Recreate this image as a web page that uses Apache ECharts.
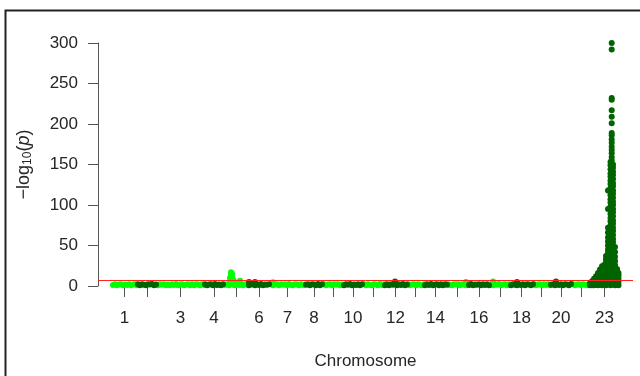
<!DOCTYPE html>
<html><head><meta charset="utf-8">
<script src="https://cdn.jsdelivr.net/npm/echarts@6/dist/echarts.min.js"></script>
<style>html,body{margin:0;padding:0;background:#fff}#c{width:640px;height:376px}</style>
</head><body><div id="c"></div>
<script>
// ---- data ----
const chromosomes = ['1','2','3','4','5','6','7','8','9','10','11','12','13','14','15','16','17','18','19','20','21','23'];
const chromLengths = [25,20,47,20,24,22,35,18,20,20,21,23,17,23,21,22,20,23,17,22,18,29];
const labeledChromosomes = ['1','3','4','6','7','8','10','12','14','16','18','20','23'];
const markerSpacing = 2;
const yTicks = [0,50,100,150,200,250,300];
const threshold = 7.3;

// background markers (-log10 p) per chromosome, evenly spaced markers
const baselineValues = {
  '1': [1.2,2.1,0.9,1.8,2.3,1.0,2.0,1.1,2.2,0.8,1.9,2.1,1.0],
  '2': [2.1,0.9,2.3,1.4,0.8,2.2,1.7,2.4,1.0,2.0],
  '3': [0.9,2.1,1.6,2.3,1.0,2.0,0.8,2.2,1.3,2.4,0.9,1.9,2.1,0.9,1.5,2.3,1.0,2.2,0.9,2.1,1.8,0.8,2.1,1.2],
  '4': [2.3,1.0,1.9,2.2,0.8,2.4,1.3,2.0,0.9,2.1],
  '5': [1.1,2.2,0.9,2.4,1.6,1.0,2.2,1.3,2.0,0.8,2.3,1.5],
  '6': [0.9,2.3,1.7,0.8,2.2,1.2,2.4,1.0,2.0,1.5,2.2],
  '7': [2.1,0.9,1.9,2.3,0.8,2.1,1.4,2.2,1.0,2.4,1.1,0.9,2.2,1.8,0.8,2.3,1.3,2.0],
  '8': [1.4,2.3,0.9,2.2,1.8,1.0,2.4,0.8,2.2],
  '9': [2.2,1.0,1.7,2.3,0.8,2.1,1.4,2.2,0.9,1.9],
  '10': [1.0,2.2,1.5,2.4,0.9,2.0,1.2,2.3,0.8,2.2],
  '11': [2.2,0.9,2.3,1.3,0.8,2.2,1.8,1.0,2.4,1.1,2.1],
  '12': [1.0,2.3,0.9,2.1,1.6,2.2,0.8,2.2,1.2,2.4,0.9,1.9],
  '13': [2.2,1.0,1.8,2.1,0.8,2.3,1.4,0.9,2.1],
  '14': [0.9,2.2,1.3,2.4,0.9,1.9,2.2,1.0,2.3,0.8,2.2,1.6],
  '15': [2.2,1.1,0.8,2.3,1.7,2.1,0.9,2.2,1.4,1.0,2.2],
  '16': [1.3,2.4,0.9,2.0,1.6,2.3,0.8,2.1,1.1,2.2,1.0],
  '17': [2.0,0.9,2.2,1.4,2.4,1.0,1.8,2.2,0.8,2.1],
  '18': [1.0,2.2,1.6,0.8,2.3,1.2,2.1,0.9,2.2,1.9,0.9,2.2],
  '19': [2.2,1.0,1.9,2.3,0.9,2.1,1.3,2.3,0.9],
  '20': [1.5,2.3,0.8,2.1,1.1,2.2,0.9,2.2,1.8,0.8,2.4],
  '21': [2.2,0.9,1.8,2.1,1.0,2.3,1.4,0.8,2.1],
  '23': []
};

// individual elevated markers: [chromosome, position within chromosome, -log10 p]
const elevatedMarkers = [
  ['5',6,10],['5',6,6.5],['5',7,17],['5',7,13.5],['5',7,10],['5',7,6.5],['5',8,15],['5',8,11],['5',8,7.5],
  ['5',9,8],['5',9,5],['5',10,6],['5',16,6.5],
  ['6',1,5],['6',7,4.8],['7',3,4.5],['12',11,5.5],['15',19,4.8],['17',3,5.5],['18',7,5],['20',6,5.5],
  // chromosome 23 shoulder
  ['23',0,1],['23',0,3.5],
  ['23',2,1],['23',2,4],['23',2,6],
  ['23',4,1],['23',4,4],['23',4,7],['23',4,9],
  ['23',6,1.5],['23',6,5],['23',6,9],['23',6,12],
  ['23',8,1],['23',8,5],['23',8,9],['23',8,13],['23',8,16],
  ['23',10,2],['23',10,6],['23',10,10],['23',10,14],['23',10,18],['23',10,20.5],
  ['23',12,1],['23',12,5],['23',12,9],['23',12,13],['23',12,17],['23',12,21],['23',12,24.5],
  ['23',14,2],['23',14,6],['23',14,10],['23',14,14],['23',14,18],['23',14,22],['23',14,26],
  ['23',16,1],['23',16,5],['23',16,9],['23',16,13],['23',16,17],['23',16,21],['23',16,25],['23',16,29],['23',16,33],['23',16,37],
  ['23',18,2],['23',18,6],['23',18,10],['23',18,14],['23',18,18],['23',18,22],['23',18,27],['23',18,31],['23',18,36],['23',18,41],['23',18,45],['23',18,50],['23',18,55],['23',18,60],['23',18,66],['23',18,72],['23',18,95],['23',18,118],
  ['23',25,1],['23',25,5],['23',25,9],['23',25,13],['23',25,17],['23',25,21],['23',25,26],['23',25,31],['23',25,36],['23',25,42],['23',25,48],
  ['23',27,2],['23',27,6],['23',27,10],['23',27,14],['23',27,18],['23',27,21],
  ['23',28.5,1],['23',28.5,5],['23',28.5,9],['23',28.5,13],['23',28.5,16]
];
// chromosome 23 main peak: two adjacent marker columns and the top of the peak
const chr23ColumnA = [1,6,10,15,20,24,29,34,38,43,47,52,57,61,66,70,75,80,84,89,93,98,103,107,112,116,121,126,130,135,139,144,149,153];
const chr23ColumnB = [2,7,12,16,21,26,30,35,40,44,49,54,58,63,68,72,77,81,86,91,95,100,104,109,114,118,123,127,132,137,141,146,150];
const chr23PeakTop = [155,159,164,168,172,177,181,186,189,201,209,217,230,232,292,300];
const chr23ColumnPos = [20.5, 23, 21.7];

// ---- build ----
const starts = [];
let acc = 0;
chromLengths.forEach(l => { starts.push(acc); acc += l; });
const mids = chromLengths.map((l, i) => starts[i] + l / 2);
const light = [], dark = [];
function add(ci, pos, v) { (ci % 2 === 0 ? light : dark).push([starts[ci] + pos, v]); }
chromosomes.forEach((c, ci) => {
  baselineValues[c].forEach((v, i) => add(ci, i * markerSpacing + 1, v));
});
elevatedMarkers.forEach(([c, p, v]) => add(chromosomes.indexOf(c), p, v));
const x23 = chromosomes.indexOf('23');
chr23ColumnA.forEach(v => add(x23, chr23ColumnPos[0], v));
chr23ColumnB.forEach(v => add(x23, chr23ColumnPos[1], v));
chr23PeakTop.forEach(v => add(x23, chr23ColumnPos[2], v));

const labeledMids = labeledChromosomes.map(c => mids[chromosomes.indexOf(c)]);
function chromName(val) {
  let best = 0;
  mids.forEach((m, i) => { if (Math.abs(m - val) < Math.abs(mids[best] - val)) best = i; });
  return chromosomes[best];
}

const FONT = '"Liberation Sans", Arial, sans-serif';
const TXT = '#262626';
const chart = echarts.init(document.getElementById('c'), null, {renderer: 'canvas'});
chart.setOption({
  animation: false,
  backgroundColor: '#fff',
  grid: {left: 98, right: 7, top: 43, bottom: 90, containLabel: false},
  xAxis: {
    type: 'value', min: -14, max: 521, offset: 1,
    splitLine: {show: false},
    axisLine: {show: false, onZero: false},
    axisTick: {show: true, customValues: mids, length: 10, lineStyle: {color: '#555', width: 1}},
    axisLabel: {show: true, customValues: labeledMids, formatter: v => chromName(v), margin: 23,
      color: TXT, fontSize: 17, fontFamily: FONT},
    name: 'Chromosome', nameLocation: 'middle', nameGap: 66,
    nameTextStyle: {color: TXT, fontSize: 17, fontFamily: FONT}
  },
  yAxis: {
    type: 'value', min: 0, max: 300, interval: 50,
    splitLine: {show: false},
    axisLine: {show: true, onZero: false, lineStyle: {color: '#555', width: 1}},
    axisTick: {show: true, length: 10, lineStyle: {color: '#555', width: 1}},
    axisLabel: {color: TXT, fontSize: 17, fontFamily: FONT, margin: 20,
      customValues: yTicks},
    name: '{a|\u2212log}{s|10}{a|(}{i|p}{a|)}', nameLocation: 'middle', nameGap: 64,
    nameTextStyle: {color: TXT, fontFamily: FONT, fontSize: 18,
      rich: {a: {fontSize: 18, fontFamily: FONT, color: TXT},
             s: {fontSize: 12, fontFamily: FONT, color: TXT, padding: [8, 0, 0, 0]},
             i: {fontSize: 18, fontFamily: FONT, color: TXT, fontStyle: 'italic'}}}
  },
  series: [
    {type: 'scatter', data: light, symbol: 'circle', symbolSize: 6, itemStyle: {color: '#00ff00', opacity: 1}, silent: true},
    {type: 'scatter', data: dark, symbol: 'circle', symbolSize: 6, itemStyle: {color: '#006400', opacity: 1}, silent: true},
    {type: 'line', data: [], z: 10, silent: true,
      markLine: {silent: true, symbol: 'none', label: {show: false},
        lineStyle: {color: '#ff2020', width: 1, type: 'solid'}, data: [{yAxis: threshold}]}}
  ],
  graphic: [{type: 'polyline', shape: {points: [[5.5, 376], [5.5, 10.5], [640, 10.5]]},
    style: {stroke: '#222', lineWidth: 2, fill: null}, silent: true}]
});
</script></body></html>
